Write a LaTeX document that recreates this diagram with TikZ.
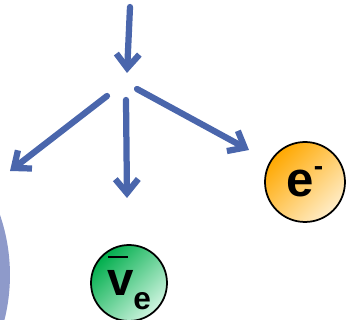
\documentclass[tikz,border=0pt]{standalone}
\usepackage{fontspec}
\setmainfont{Liberation Sans}
\usetikzlibrary{arrows.meta}

\begin{document}
\begin{tikzpicture}[x=0.02cm,y=-0.02cm,
  >={Straight Barb[length=0.28cm,width=0.46cm]},
  decay/.style={->,line width=1.25mm,draw=arrowblue,line cap=round},
  particle/.style={circle,draw=black,line width=0.35mm,minimum size=#1,inner sep=0pt},
]
  \definecolor{arrowblue}{HTML}{4A66AC}
  \definecolor{eorange}{HTML}{FFA800}
  \definecolor{elight}{HTML}{FFEDC8}
  \definecolor{nugreen}{HTML}{00AE4C}
  \definecolor{nulight}{HTML}{CFF4E0}
  \definecolor{nucblue}{HTML}{8E9ACA}

  \useasboundingbox (0,0) rectangle (346,320);
  \clip (0,0) rectangle (346,320);

  % nucleus at the left edge
  \node[circle,minimum size=7.4cm,inner sep=0pt,fill=nucblue] (nucleus) at (-175,275) {};

  % decay products
  \node[particle=1.6cm,top color=eorange,bottom color=elight,shading angle=45] (electron) at (305,182)
    {\fontsize{28}{28}\selectfont\bfseries e\raisebox{0.42em}{\fontsize{16}{16}\selectfont -}};
  \node[particle=1.52cm,top color=nugreen,bottom color=nulight,shading angle=45] (antinu) at (129,283)
    {\fontsize{27}{27}\selectfont\bfseries
     \makebox[0pt][l]{\hspace{0.03em}\raisebox{0.78em}{\rule{0.42em}{0.05em}}}v\raisebox{-0.3em}{\fontsize{18}{18}\selectfont e}};

  % decay point
  \coordinate (src) at (130,7);
  \coordinate (split) at (127,73);
  \coordinate (startl) at (107,96);
  \coordinate (startm) at (126,100);
  \coordinate (startr) at (137,89);
  \coordinate (endl) at (10,171);
  \coordinate (endm) at (127,198);
  \coordinate (endr) at (249,150);

  \draw[decay] (src) -- (split);
  \draw[decay] (startl) -- (endl);
  \draw[decay] (startm) -- (endm);
  \draw[decay] (startr) -- (endr);
\end{tikzpicture}
\end{document}
